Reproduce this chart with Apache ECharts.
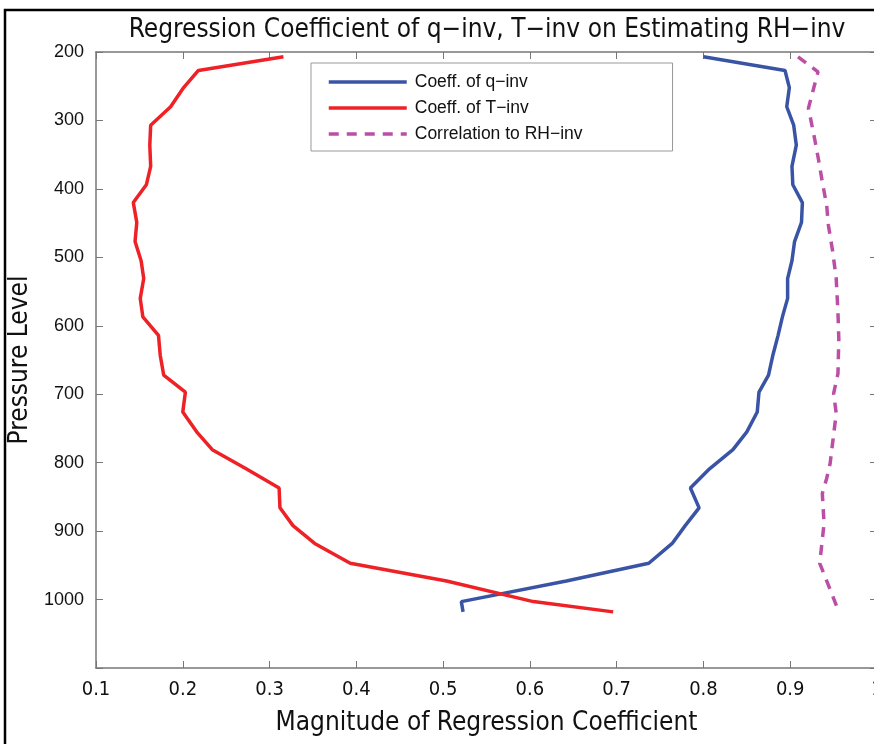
<!DOCTYPE html>
<html>
<head>
<meta charset="utf-8">
<script src="https://cdn.jsdelivr.net/npm/echarts@6/dist/echarts.min.js"></script>
<style>
  html, body { margin: 0; padding: 0; background: #fff; }
  #chart { width: 874px; height: 744px; }
</style>
</head>
<body>
<div id="chart"></div>
<script>
// pressure levels shared by the two coefficient curves
const levels = [207, 227, 252, 280, 307, 336, 367, 394, 420, 449, 477, 505, 531, 560, 587, 614,
  643, 672, 697, 726, 755, 781, 809, 837, 866, 892, 918, 947, 973, 1003, 1018]
const coeffQ = [0.800, 0.894, 0.899, 0.896, 0.904, 0.907, 0.902, 0.903, 0.914, 0.913, 0.905, 0.902,
  0.897, 0.897, 0.891, 0.886, 0.880, 0.875, 0.864, 0.862, 0.850, 0.834, 0.807, 0.785, 0.795, 0.779,
  0.764, 0.737, 0.642, 0.521, 0.523]
const coeffT = [0.316, 0.218, 0.201, 0.186, 0.163, 0.162, 0.163, 0.158, 0.143, 0.147, 0.145, 0.152,
  0.155, 0.151, 0.154, 0.172, 0.174, 0.178, 0.203, 0.200, 0.216, 0.234, 0.273, 0.311, 0.312, 0.327,
  0.352, 0.393, 0.504, 0.604, 0.696]
// correlation curve has its own vertices
const corrLevels = [207, 229, 282, 326, 360, 390, 424, 453, 492, 531, 580, 619, 670, 699, 728,
  801, 823, 845, 889, 947, 1008, 1015]
const corrRH = [0.909, 0.932, 0.921, 0.928, 0.933, 0.937, 0.942, 0.944, 0.949, 0.953, 0.955, 0.956,
  0.955, 0.950, 0.953, 0.946, 0.942, 0.937, 0.939, 0.934, 0.953, 0.955]

const seriesNames = ['Coeff. of q\u2212inv', 'Coeff. of T\u2212inv', 'Correlation to RH\u2212inv']

const pairs = (xs, ys) => xs.map((v, i) => [v, ys[i]])

const narrow = '"Liberation Sans Narrow", "DejaVu Sans Condensed", "Liberation Sans", sans-serif'
const axisGray = '#777'

const chart = echarts.init(document.getElementById('chart'))

chart.setOption({
  animation: false,
  backgroundColor: '#fff',
  title: {
    text: 'Regression Coefficient of q\u2212inv, T\u2212inv on Estimating RH\u2212inv',
    left: 482, top: 12, textAlign: 'center',
    textStyle: { fontFamily: narrow, fontSize: 26, fontWeight: 'normal', color: '#111' }
  },
  legend: {
    orient: 'vertical',
    left: 311, top: 63,
    padding: [9, 90, 7, 16],
    itemWidth: 78, itemHeight: 14, itemGap: 6,
    backgroundColor: '#fff',
    borderColor: '#999', borderWidth: 1,
    itemStyle: { opacity: 0 },
    lineStyle: { width: 3.5 },
    textStyle: {
      fontFamily: '"Liberation Sans", Arial, sans-serif', fontSize: 17.5, lineHeight: 20,
      color: '#111', padding: [0, 0, 0, 3]
    },
    data: seriesNames
  },
  graphic: [{
    type: 'rect', z: 100, silent: true,
    shape: { x: 5, y: 10, width: 1000, height: 1000 },
    style: { fill: 'none', stroke: '#000', lineWidth: 2.5 }
  }],
  grid: { left: 96, top: 52, width: 781, height: 616, outerBoundsMode: 'none', containLabel: false },
  xAxis: [{
    type: 'value', min: 0.1, max: 1, interval: 0.1,
    name: 'Magnitude of Regression Coefficient',
    nameLocation: 'middle', nameGap: 42,
    nameTextStyle: { fontFamily: narrow, fontSize: 26, color: '#111' },
    axisLine: { lineStyle: { color: axisGray, width: 1.5 } },
    axisTick: { inside: true, length: 7, lineStyle: { color: axisGray } },
    axisLabel: {
      margin: 12, fontFamily: narrow, fontSize: 20, color: '#111',
      formatter: v => (v >= 0.999 ? '1' : v.toFixed(1))
    },
    splitLine: { show: false }
  }, {
    type: 'value', position: 'top', min: 0.1, max: 1, interval: 0.1,
    axisLine: { lineStyle: { color: axisGray, width: 1.5 } },
    axisTick: { inside: true, length: 7, lineStyle: { color: axisGray } },
    axisLabel: { show: false },
    splitLine: { show: false }
  }],
  yAxis: [{
    type: 'value', inverse: true, min: 200, max: 1100, interval: 100,
    name: 'Pressure Level',
    nameLocation: 'middle', nameGap: 62, nameRotate: 90,
    nameTextStyle: { fontFamily: narrow, fontSize: 26, color: '#111' },
    axisLine: { lineStyle: { color: axisGray, width: 1.5 } },
    axisTick: { inside: true, length: 7, lineStyle: { color: axisGray } },
    axisLabel: {
      margin: 12, fontFamily: '"Liberation Sans", Arial, sans-serif', fontSize: 18, color: '#111',
      formatter: v => (v >= 1100 ? '' : String(v))
    },
    splitLine: { show: false }
  }, {
    type: 'value', position: 'right', inverse: true, min: 200, max: 1100, interval: 100,
    axisLine: { lineStyle: { color: axisGray, width: 1.5 } },
    axisTick: { inside: true, length: 7, lineStyle: { color: axisGray } },
    axisLabel: { show: false },
    splitLine: { show: false }
  }],
  series: [{
    name: seriesNames[0], type: 'line', symbol: 'none',
    data: pairs(coeffQ, levels),
    lineStyle: { color: '#3A54A5', width: 3.5 }, itemStyle: { color: '#3A54A5' }
  }, {
    name: seriesNames[1], type: 'line', symbol: 'none',
    data: pairs(coeffT, levels),
    lineStyle: { color: '#EE2226', width: 3.5 }, itemStyle: { color: '#EE2226' }
  }, {
    name: seriesNames[2], type: 'line', symbol: 'none',
    data: pairs(corrRH, corrLevels),
    lineStyle: { color: '#BB4FA6', width: 3.5, type: [10, 8] }, itemStyle: { color: '#BB4FA6' }
  }]
})
</script>
</body>
</html>
